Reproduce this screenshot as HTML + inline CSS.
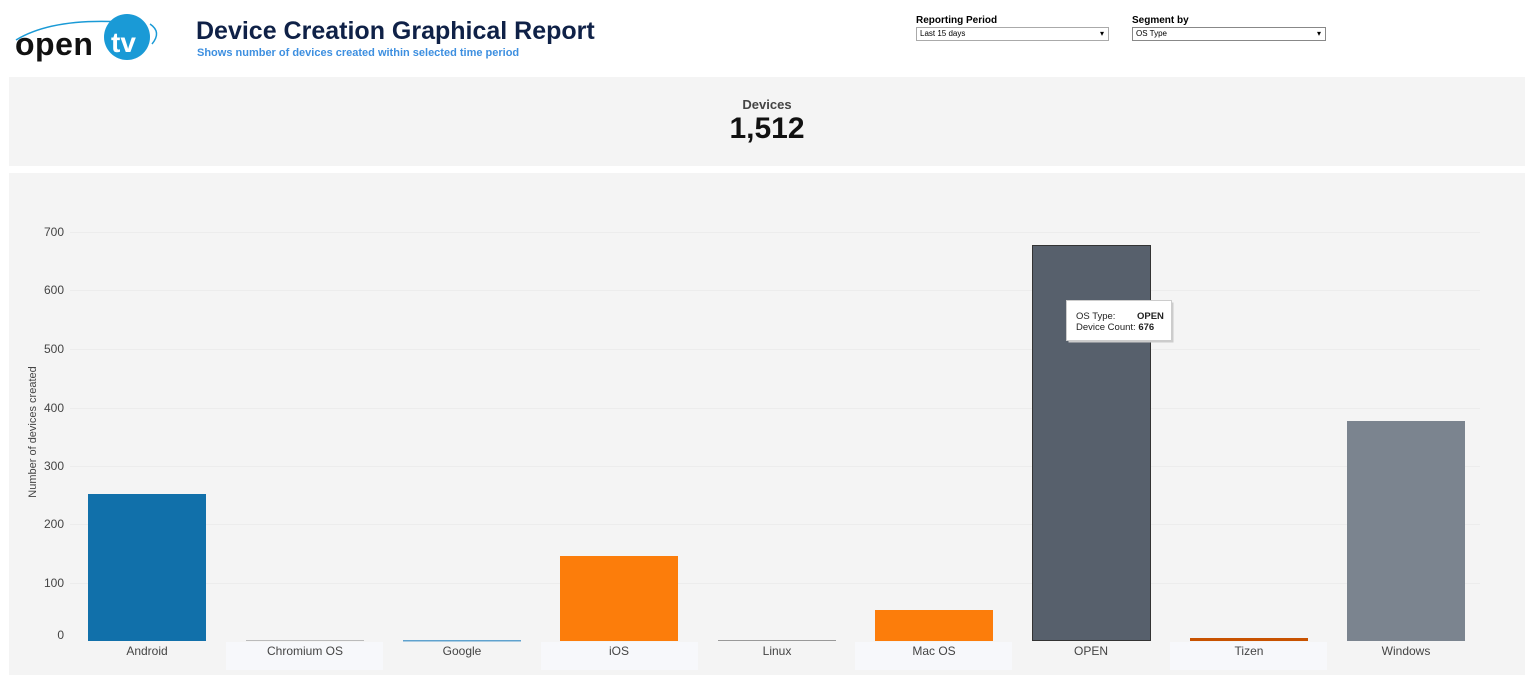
<!DOCTYPE html>
<html><head><style>
body{margin:0;width:1534px;height:685px;background:#fff;font-family:"Liberation Sans",Arial,sans-serif;position:relative;overflow:hidden}
.a{position:absolute}
</style></head><body>
<svg class="a" style="left:12px;top:12px" width="160" height="52">
<path d="M4 28 Q40 6 110 10" fill="none" stroke="#1a9ad6" stroke-width="1.5"/>
<path d="M138 12 Q150 20 140 32" fill="none" stroke="#1a9ad6" stroke-width="1.5"/>
<circle cx="115" cy="25" r="23" fill="#1a9ad6"/>
<text x="3" y="43" font-family="Liberation Sans" font-size="32" font-weight="bold" fill="#111" letter-spacing="0.5">open</text>
<text x="99" y="40" font-family="Liberation Sans" font-size="28" font-weight="bold" fill="#fff">tv</text>
</svg>
<div class="a" style="left:196px;top:17px;font-size:25px;font-weight:bold;color:#0f2147">Device Creation Graphical Report</div>
<div class="a" style="left:197px;top:47px;font-size:11px;font-weight:bold;color:#3d8fe0">Shows number of devices created within selected time period</div>
<div class="a" style="left:916px;top:15px;font-size:10px;font-weight:bold">Reporting Period</div>
<div class="a" style="left:916px;top:27px;width:188px;height:12px;border:1px solid #aaa;font-size:8px;line-height:12px;padding-left:3px;box-sizing:content-box">Last 15 days<span style="position:absolute;right:4px">▾</span></div>
<div class="a" style="left:1132px;top:15px;font-size:10px;font-weight:bold">Segment by</div>
<div class="a" style="left:1132px;top:27px;width:189px;height:12px;border:1px solid #888;font-size:8px;line-height:12px;padding-left:3px">OS Type<span style="position:absolute;right:4px">▾</span></div>
<div class="a" style="left:9px;top:77px;width:1516px;height:89px;background:#f4f4f4"></div>
<div class="a" style="left:9px;top:97px;width:1516px;text-align:center;font-size:13px;font-weight:bold;color:#444">Devices</div>
<div class="a" style="left:9px;top:112px;width:1516px;text-align:center;font-size:30px;font-weight:bold;color:#111">1,512</div>
<div class="a" style="left:9px;top:173px;width:1516px;height:502px;background:#f4f4f4"></div>
<svg class="a" style="left:0;top:0" width="1534" height="685" font-family="Liberation Sans" font-size="12">
<g stroke="#ececec" stroke-width="1">
<line x1="70" x2="1480" y1="232.5" y2="232.5"/><line x1="70" x2="1480" y1="290.5" y2="290.5"/><line x1="70" x2="1480" y1="349.5" y2="349.5"/><line x1="70" x2="1480" y1="408.5" y2="408.5"/><line x1="70" x2="1480" y1="466.5" y2="466.5"/><line x1="70" x2="1480" y1="524.5" y2="524.5"/><line x1="70" x2="1480" y1="583.5" y2="583.5"/>
</g>
<g fill="#444" text-anchor="end">
<text x="64" y="236">700</text><text x="64" y="294">600</text><text x="64" y="353">500</text><text x="64" y="412">400</text><text x="64" y="470">300</text><text x="64" y="528">200</text><text x="64" y="587">100</text><text x="64" y="639">0</text>
</g>
<text transform="translate(36,432) rotate(-90)" text-anchor="middle" fill="#444" font-size="11">Number of devices created</text>
<g fill="#f7f8fb">
<rect x="226" y="642" width="157" height="28"/><rect x="541" y="642" width="157" height="28"/><rect x="855" y="642" width="157" height="28"/><rect x="1170" y="642" width="157" height="28"/>
</g>
<rect x="88" y="494" width="118" height="147" fill="#1170aa"/>
<rect x="246" y="640" width="118" height="1" fill="#bbb"/>
<rect x="403" y="640" width="118" height="1.5" fill="#5fa2ce"/>
<rect x="560" y="556" width="118" height="85" fill="#fc7d0b"/>
<rect x="718" y="640" width="118" height="1" fill="#999"/>
<rect x="875" y="610" width="118" height="31" fill="#fc7d0b"/>
<rect x="1032.5" y="245.5" width="118" height="395" fill="#57606c" stroke="#333" stroke-width="1"/>
<rect x="1190" y="638" width="118" height="3" fill="#c85200"/>
<rect x="1347" y="421" width="118" height="220" fill="#7b848f"/>
<g fill="#444" text-anchor="middle">
<text x="147" y="655">Android</text><text x="305" y="655">Chromium OS</text><text x="462" y="655">Google</text><text x="619" y="655">iOS</text><text x="777" y="655">Linux</text><text x="934" y="655">Mac OS</text><text x="1091" y="655">OPEN</text><text x="1249" y="655">Tizen</text><text x="1406" y="655">Windows</text>
</g>
<rect x="1068.5" y="302.5" width="105" height="40" fill="#ccc"/>
<rect x="1066.5" y="300.5" width="105" height="40" fill="#fff" stroke="#ccc"/>
<g font-size="9.5" fill="#222"><text x="1076" y="319">OS Type:</text><text x="1137" y="319" font-weight="bold">OPEN</text><text x="1076" y="330">Device Count: <tspan font-weight="bold">676</tspan></text></g>
</svg>
</body></html>
